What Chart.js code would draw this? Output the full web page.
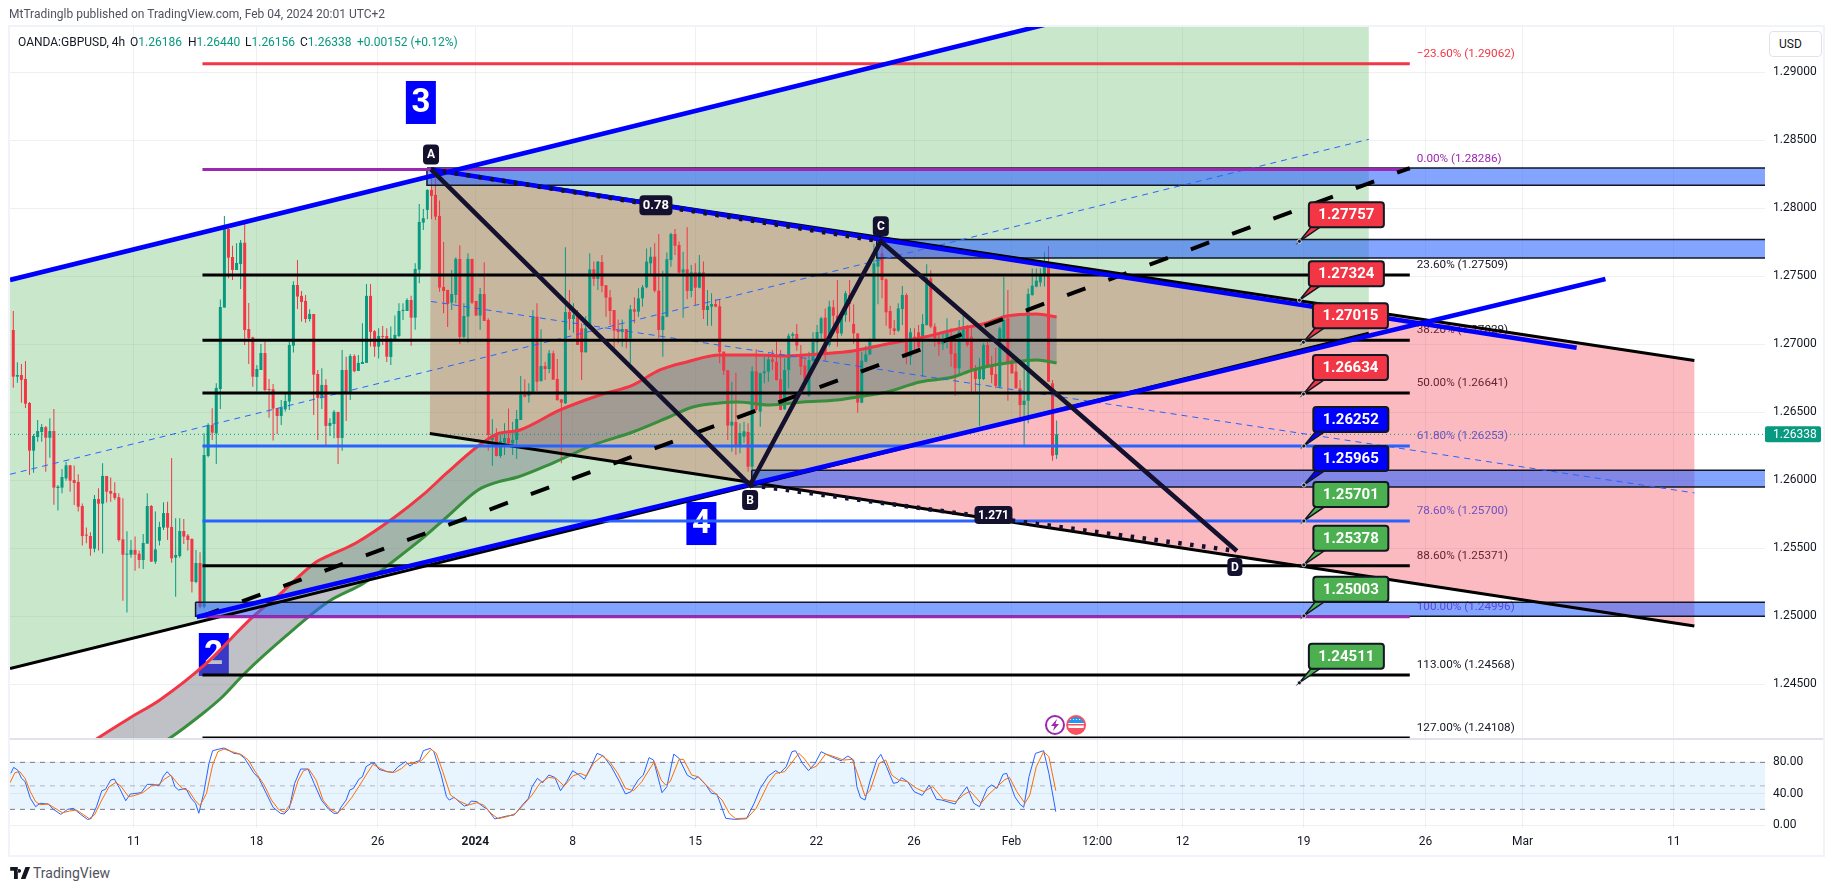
<!DOCTYPE html>
<html><head><meta charset="utf-8"><title>GBPUSD</title>
<script src="https://cdn.jsdelivr.net/npm/chart.js@4"></script>
<style>
html,body{margin:0;padding:0;background:#fff;width:1835px;height:891px;overflow:hidden;font-family:Roboto,sans-serif;color:#131722}
.frame{position:absolute;left:8px;top:25px;width:1813px;height:828px;border:2px solid #f0f3fa}
canvas{position:absolute;left:0}
.t{position:absolute;white-space:nowrap;font-size:12px;line-height:14px;z-index:5}
.g{color:#089981}
#sep{position:absolute;left:10px;top:738px;width:1813px;height:2px;background:#e0e3eb;z-index:4}
#usd{position:absolute;left:1769px;top:31px;width:42px;height:24px;padding-left:9px;line-height:25px;font-size:12px;border:1px solid #e0e3eb;border-radius:4px;background:#fff;z-index:5}
</style></head><body>
<div class="t" style="left:9px;top:7px;color:#50535e">MtTradinglb published on TradingView.com, Feb 04, 2024 20:01 UTC+2</div>
<div class="frame"></div>
<canvas id="price" width="1835" height="738" style="top:0"></canvas>
<canvas id="stoch" width="1835" height="118" style="top:738px"></canvas>
<div id="sep"></div>
<div class="t" style="left:18px;top:35px">OANDA:GBPUSD, 4h</div>
<div class="t" style="left:130px;top:35px">O<span class="g">1.26186</span></div>
<div class="t" style="left:188px;top:35px">H<span class="g">1.26440</span></div>
<div class="t" style="left:245px;top:35px">L<span class="g">1.26156</span></div>
<div class="t" style="left:300px;top:35px">C<span class="g">1.26338</span></div>
<div class="t g" style="left:357px;top:35px">+0.00152 (+0.12%)</div>
<div id="usd">USD</div>
<svg style="position:absolute;left:10px;top:867px" width="20" height="12" viewBox="0 0 36 22"><path fill="#131722" d="M14 22H7V7H0V0h14v22Zm14 0h-8.5L28 0h8.5L28 22ZM20 7a3.5 3.5 0 1 0 0 0.01Z"/></svg>
<div class="t" style="left:33px;top:866px;font-size:14px;color:#50535e">TradingView</div>
<script>
const opens=[1.27105,1.26762,1.26774,1.26745,1.26568,1.26218,1.26318,1.26355,1.2639,1.26313,
1.26362,1.25943,1.25946,1.26014,1.2611,1.26002,1.25988,1.25811,1.25598,1.2559,
1.25497,1.25862,1.25828,1.26032,1.25921,1.25907,1.25875,1.25566,1.25453,1.25453,
1.25488,1.2546,1.25414,1.25534,1.25811,1.25402,1.25556,1.25652,1.25759,1.25657,
1.25431,1.25443,1.25627,1.25593,1.25568,1.25252,1.25392,1.2507,1.26179,1.26407,
1.26345,1.26671,1.2727,1.27848,1.27642,1.27546,1.2759,1.27747,1.27112,1.27051,
1.2676,1.26811,1.26936,1.26671,1.26669,1.26532,1.26473,1.26522,1.26579,1.2699,
1.27436,1.27356,1.27319,1.27186,1.27223,1.26782,1.26606,1.26701,1.264,1.26414,
1.26503,1.26311,1.26811,1.26647,1.26914,1.26804,1.26855,1.26863,1.27356,1.27096,
1.26983,1.27061,1.27061,1.26907,1.27039,1.27061,1.27245,1.27245,1.27326,1.27196,
1.27549,1.27895,1.27988,1.28135,1.28098,1.27944,1.27422,1.274,1.27306,1.27363,
1.27628,1.27054,1.27204,1.27628,1.27319,1.27211,1.2737,1.27179,1.26297,1.26333,
1.26179,1.26277,1.26311,1.26272,1.26297,1.26444,1.26628,1.26622,1.26652,1.27203,
1.2673,1.2684,1.26818,1.26934,1.26745,1.26595,1.26566,1.27237,1.27186,1.27215,
1.27117,1.26941,1.27117,1.27551,1.2748,1.27605,1.27434,1.27345,1.27252,1.27105,
1.2709,1.27112,1.27044,1.27257,1.2724,1.27338,1.27419,1.27595,1.27644,1.27394,
1.27105,1.27203,1.2762,1.27811,1.2773,1.27527,1.27551,1.27392,1.27529,1.27416,
1.27529,1.27252,1.27277,1.27296,1.27279,1.26946,1.26809,1.26402,1.26429,1.2626,
1.26321,1.26355,1.261,1.26801,1.26505,1.26787,1.26799,1.26889,1.26872,1.26742,
1.26522,1.26811,1.27063,1.27076,1.26926,1.26843,1.26622,1.26879,1.27014,1.2708,
1.27196,1.26995,1.27272,1.2721,1.2708,1.27215,1.27362,1.27149,1.2708,1.26571,
1.26872,1.26926,1.27031,1.27571,1.27669,1.27477,1.27245,1.27117,1.271,1.27259,
1.27362,1.26909,1.27056,1.27088,1.27053,1.27142,1.27485,1.2713,1.27031,1.27,
1.27031,1.27024,1.26933,1.26823,1.27024,1.27117,1.27056,1.26818,1.26745,1.26745,
1.26995,1.26848,1.26781,1.26688,1.27046,1.27191,1.26884,1.26799,1.26676,1.26553,
1.26585,1.27362,1.27424,1.27455,1.27509,1.276,1.26713,1.26186];
const highs=[1.27245,1.26868,1.26855,1.26877,1.26576,1.2634,1.26443,1.26414,1.264,1.26456,
1.26524,1.25965,1.26083,1.26137,1.26112,1.26108,1.26044,1.2583,1.25652,1.25617,
1.25892,1.25941,1.26125,1.26032,1.2602,1.25985,1.25904,1.25867,1.25625,1.25561,
1.25586,1.25483,1.25605,1.25904,1.25818,1.2577,1.25696,1.25838,1.25843,1.26164,
1.2572,1.2572,1.25715,1.25605,1.25573,1.25488,1.2547,1.26345,1.26419,1.26529,
1.26713,1.2733,1.27943,1.27853,1.27725,1.27742,1.27767,1.27914,1.27303,1.27056,
1.26848,1.27002,1.27019,1.26745,1.26708,1.26532,1.26591,1.2664,1.27017,1.27463,
1.2762,1.27392,1.27363,1.27258,1.27223,1.26811,1.26824,1.26743,1.26456,1.26517,
1.26503,1.26958,1.26909,1.26929,1.26926,1.26922,1.27154,1.27444,1.27444,1.27105,
1.27118,1.27135,1.27118,1.2713,1.27211,1.27302,1.27302,1.27338,1.27356,1.27596,
1.28032,1.27995,1.2814,1.28233,1.2822,1.28057,1.27753,1.274,1.27547,1.2764,
1.27728,1.27302,1.27669,1.27628,1.27319,1.27414,1.27603,1.27191,1.26449,1.26382,
1.26333,1.26419,1.26527,1.26431,1.26517,1.26767,1.26743,1.26713,1.27252,1.27301,
1.2711,1.26872,1.26958,1.26953,1.26892,1.26595,1.27713,1.27399,1.27301,1.27252,
1.27154,1.27208,1.27669,1.27608,1.27612,1.27657,1.27434,1.27399,1.27252,1.27183,
1.27183,1.27112,1.27289,1.27345,1.27412,1.27436,1.27705,1.27713,1.27742,1.27811,
1.27541,1.27674,1.27821,1.27848,1.27755,1.27681,1.2786,1.27583,1.27595,1.27657,
1.27608,1.27399,1.27375,1.27331,1.27331,1.26946,1.26809,1.26725,1.26791,1.26419,
1.26431,1.26419,1.26836,1.26963,1.26791,1.26909,1.26934,1.26958,1.27019,1.26958,
1.26897,1.2708,1.27088,1.27149,1.26995,1.26897,1.26946,1.27088,1.27142,1.27203,
1.27264,1.27321,1.27325,1.27473,1.27235,1.27392,1.27473,1.27294,1.2708,1.26946,
1.2699,1.27044,1.27737,1.27669,1.2773,1.27485,1.27284,1.27178,1.27301,1.27428,
1.27375,1.27117,1.27117,1.27142,1.2722,1.27588,1.27544,1.27154,1.27068,1.27088,
1.27191,1.27117,1.27014,1.27178,1.27215,1.27142,1.27142,1.26848,1.26897,1.27007,
1.27019,1.26914,1.26975,1.2713,1.27497,1.27399,1.26897,1.2686,1.26737,1.26884,
1.27411,1.27558,1.27558,1.27558,1.27676,1.27723,1.26737,1.2644];
const lows=[1.26681,1.26718,1.26571,1.26532,1.26039,1.26056,1.26284,1.26284,1.26063,1.26166,
1.25821,1.25777,1.25904,1.25997,1.25916,1.25818,1.2577,1.2552,1.25537,1.25446,
1.2547,1.25483,1.25461,1.25836,1.25843,1.25855,1.25549,1.25115,1.25027,1.25431,
1.25335,1.25353,1.25348,1.25534,1.254,1.25385,1.2552,1.25635,1.25561,1.25394,
1.25144,1.25431,1.25532,1.25483,1.25174,1.25242,1.25059,1.25059,1.26169,1.26296,
1.2612,1.26524,1.2727,1.27485,1.27473,1.27546,1.27407,1.26995,1.26855,1.26688,
1.26652,1.26811,1.26652,1.2646,1.26292,1.26341,1.26407,1.26505,1.26517,1.26939,
1.2726,1.27167,1.27159,1.27167,1.2648,1.26297,1.26525,1.2626,1.26326,1.26309,
1.2612,1.26218,1.26436,1.26591,1.26794,1.26804,1.26855,1.26863,1.26983,1.26909,
1.26895,1.26995,1.2687,1.26848,1.27039,1.27052,1.27179,1.27245,1.2699,1.27106,
1.27449,1.27841,1.27919,1.27919,1.27914,1.27387,1.27228,1.27128,1.27253,1.27302,
1.27003,1.27042,1.27012,1.27297,1.27211,1.27106,1.27172,1.26218,1.26106,1.26174,
1.26164,1.26186,1.26253,1.26186,1.26157,1.26444,1.26608,1.26571,1.26644,1.26657,
1.26725,1.26737,1.26787,1.2674,1.26585,1.26125,1.26561,1.27105,1.27085,1.26995,
1.26737,1.26939,1.27117,1.27429,1.27399,1.27382,1.27203,1.27142,1.26958,1.27007,
1.26982,1.2697,1.2686,1.27154,1.27203,1.27277,1.27412,1.2751,1.2738,1.27044,
1.26909,1.27198,1.27571,1.27657,1.27522,1.27196,1.27331,1.27345,1.27289,1.27412,
1.27186,1.27137,1.27137,1.27272,1.2686,1.26774,1.26296,1.2621,1.26186,1.26198,
1.26272,1.26063,1.2599,1.26505,1.26394,1.26713,1.26725,1.26811,1.26733,1.26517,
1.26517,1.26676,1.27019,1.26953,1.26774,1.26664,1.26615,1.26872,1.26933,1.27031,
1.26877,1.26982,1.27076,1.26982,1.27063,1.27166,1.27166,1.27004,1.26497,1.26566,
1.26867,1.26921,1.27031,1.27294,1.27338,1.27137,1.27068,1.27068,1.27093,1.27142,
1.26853,1.26848,1.26946,1.2697,1.26762,1.27137,1.27117,1.26982,1.26916,1.26958,
1.2697,1.26835,1.26622,1.26774,1.27019,1.26982,1.26651,1.26651,1.26399,1.26737,
1.26835,1.26713,1.26676,1.26676,1.2703,1.26585,1.26786,1.26676,1.26426,1.26259,
1.26419,1.27357,1.27419,1.27424,1.27424,1.26725,1.26144,1.26156];
const closes=[1.26762,1.26774,1.26738,1.26563,1.26218,1.26326,1.26362,1.26392,1.26313,1.26362,
1.25946,1.25953,1.26024,1.2611,1.25997,1.2598,1.25806,1.2559,1.25593,1.25497,
1.25862,1.25828,1.26032,1.25916,1.25902,1.2587,1.25561,1.25453,1.25458,1.25488,
1.25453,1.25414,1.25539,1.25811,1.25402,1.25492,1.25657,1.25759,1.25652,1.25426,
1.25451,1.25627,1.25586,1.25561,1.25254,1.25392,1.2507,1.26186,1.26407,1.2635,
1.26679,1.27274,1.27848,1.27637,1.27546,1.27598,1.27747,1.27105,1.27046,1.26762,
1.26818,1.26936,1.26664,1.26664,1.26527,1.26473,1.26532,1.26583,1.26995,1.27436,
1.27351,1.27311,1.27186,1.27223,1.26777,1.26606,1.26701,1.264,1.26422,1.26503,
1.26311,1.26811,1.26647,1.26914,1.26802,1.26863,1.2687,1.27356,1.27091,1.26983,
1.27061,1.27054,1.26909,1.27044,1.27069,1.27245,1.27253,1.27326,1.27196,1.27554,
1.279,1.27927,1.28135,1.28091,1.27939,1.27417,1.27392,1.27297,1.2737,1.27628,
1.27054,1.27208,1.27628,1.27306,1.27211,1.2737,1.27172,1.26333,1.26333,1.26179,
1.26289,1.26311,1.26272,1.26297,1.26451,1.26628,1.26615,1.26652,1.27203,1.26725,
1.2684,1.26818,1.26934,1.2674,1.2659,1.26571,1.27237,1.27186,1.27215,1.26995,
1.26941,1.27117,1.27551,1.2748,1.27608,1.27429,1.27343,1.27245,1.271,1.2709,
1.27112,1.27039,1.27257,1.2724,1.27338,1.27419,1.27608,1.27644,1.27394,1.27105,
1.27208,1.27625,1.27811,1.27725,1.27527,1.27551,1.27392,1.27529,1.27416,1.27529,
1.27252,1.27282,1.27296,1.27277,1.26941,1.26806,1.26402,1.26431,1.2626,1.26348,
1.2636,1.261,1.26801,1.26517,1.26787,1.26801,1.26889,1.26872,1.26737,1.26517,
1.26811,1.27063,1.27076,1.2699,1.26835,1.26737,1.26884,1.27019,1.2709,1.27191,
1.26921,1.27277,1.2721,1.2708,1.27215,1.27375,1.27296,1.2708,1.26571,1.2688,
1.26926,1.27019,1.27595,1.27632,1.27473,1.27235,1.27117,1.27098,1.27264,1.27362,
1.26909,1.27088,1.27031,1.26982,1.27149,1.2749,1.2713,1.27044,1.27,1.27026,
1.2708,1.26928,1.26823,1.27093,1.27117,1.26995,1.26818,1.26745,1.26818,1.26995,
1.26843,1.26774,1.26693,1.27117,1.27178,1.2686,1.26786,1.26676,1.26553,1.26585,
1.2737,1.27431,1.27468,1.27509,1.27571,1.26725,1.26181,1.26338];
const lastPrice=1.26338;
const priceTicks=[1.245,1.25,1.255,1.26,1.265,1.27,1.275,1.28,1.285,1.29];
const stochTicks=[0,40,80];
const timeBars=[29.7,59.9,89.8,113.8,137.8,168,197.8,221.9,245.9,267,288,317.9,347.9,371.8,409];
const timeLabels=['11','18','26','2024','8','15','22','26','Feb','12:00','12','19','26','Mar','11'];
const fibPrices=[1.29062,1.28286,1.27509,1.27029,1.26641,1.26253,1.257,1.25371,1.24996,1.24568,1.24108];
const fibLabels=['\u221223.60% (1.29062)','0.00% (1.28286)','23.60% (1.27509)','38.20% (1.27029)','50.00% (1.26641)','61.80% (1.26253)','78.60% (1.25700)','88.60% (1.25371)','100.00% (1.24996)','113.00% (1.24568)','127.00% (1.24108)'];
const notePrices=[1.27757,1.27324,1.27015,1.26634,1.26252,1.25965,1.25701,1.25378,1.25003,1.24511];
const noteBars=[316.8,316.8,317.8,317.8,317.9,317.9,317.9,317.9,317.9,316.8];
const pointA=[102.9,1.28286],pointB=[181.5,1.25965],pointC=[213.7,1.27757],pointD=[301.4,1.2548];
const greenChannelUpper=[[-0.8,1.27473],[333.9,1.29937]];
const greenChannelLower=[[-0.8,1.24616],[333.9,1.27082]];
const greenChannelMiddle=[[-0.8,1.26044],[333.9,1.28507]];
const redChannelUpper=[[102.9,1.28285],[414.1,1.26881]];
const redChannelLower=[[102.6,1.26344],[414.1,1.24929]];
const redChannelMiddle=[[102.9,1.27315],[414.1,1.25907]];
const risingTrend=[[45.2,1.24995],[392.2,1.2748]];
const fallingTrend=[[102.9,1.28285],[385.1,1.26975]];
const dashedTrend=[[46.2,1.24997],[344,1.28296]];
const zoneBars=[101.9,212.7,181.9,44.9];
const zoneTops=[1.28296,1.27771,1.26074,1.25103];
const zoneBottoms=[1.28169,1.27635,1.25951,1.25];
const waveLabels=['3','4','2'],waveBars=[100.4,169.5,49.4],wavePrices=[1.28778,1.25682,1.24719];
const fastMA=[[17.7,1.24039],[20.9,1.24105],[28.7,1.24252],[36.1,1.24385],[47.1,1.24642],[59,1.24995],[64.9,1.25142],[74.6,1.25399],[76.5,1.25429],[84.4,1.25539],[94,1.2573],[100.9,1.25892],[106.8,1.26054],[114.2,1.26245],[119.1,1.2634],[124.8,1.2637],[134.7,1.26517],[144.5,1.26627],[152.6,1.267],[159.3,1.26811],[165.9,1.2687],[174,1.26921],[182.2,1.26921],[190.6,1.26914],[198.7,1.26929],[206.8,1.26951],[215.2,1.27002],[223.3,1.27046],[231.5,1.27105],[239.8,1.27157],[244.8,1.27208],[252.1,1.27223],[257,1.27201]];
const slowMA=[[33.7,1.24017],[38.6,1.24105],[46.2,1.24274],[51.2,1.24399],[57.1,1.24583],[66.9,1.24848],[77.5,1.25105],[86.4,1.25245],[94,1.25414],[100.9,1.25576],[106.8,1.2573],[114.5,1.25929],[119.4,1.25988],[124.3,1.26024],[132.9,1.26127],[142.8,1.26259],[152.6,1.26355],[161,1.26458],[167.4,1.26539],[174,1.26568],[178.3,1.26576],[186.4,1.26554],[194.5,1.26576],[202.9,1.2659],[211,1.26627],[215.2,1.26649],[223.3,1.26723],[231.5,1.26759],[236.4,1.26811],[244.8,1.26862],[252.1,1.26884],[257,1.26862]];
const stochK=[[-0.6,66],[0.1,73.6],[1.1,70],[2,59.8],[2.9,55.5],[4.2,34.2],[5.5,23.4],[6.6,27.7],[8.6,26.8],[9.9,20],[11.7,13.6],[13.4,20],[14.8,21.3],[16.5,14],[18.3,7],[19.2,8.3],[20.5,23.4],[21.8,43.8],[22.7,45.5],[24,57.4],[24.9,58.7],[26.2,46.8],[27.7,31],[28.8,39.5],[31.5,41.3],[33,51.9],[34.5,51.9],[35.9,49.8],[37,62.5],[37.9,68.1],[39,61.7],[39.8,49],[40.7,44.7],[42.5,46.8],[43.8,34.2],[44.9,27.7],[45.7,15],[46.9,40.5],[48.2,78.8],[49.1,94.9],[50.4,96.6],[51.9,98.3],[53,95.8],[54.3,91.5],[55.7,90.6],[57,85.1],[58.3,74.5],[59.2,66.8],[60.5,59.6],[62.3,40.5],[64,22.6],[65.8,15],[66.7,14],[68,21.3],[69.3,53.2],[70.8,71.5],[72.6,71.5],[74.1,53.2],[75.9,31.9],[77.7,20],[79,14.9],[79.9,14.9],[80.7,22.6],[82,31.9],[82.9,44.7],[83.8,46.8],[85.1,58.3],[86,61.7],[86.9,74.5],[88.2,78.8],[89.1,78.8],[90.1,71],[92.1,68.1],[93.5,67.2],[94.8,74.5],[96.6,80.9],[97.7,75.3],[99.2,80.9],[100.1,82.2],[101,94.9],[102.7,97.9],[103.6,93.6],[105.4,63.9],[106.7,36.2],[107.4,31.9],[108.6,35.3],[109.8,29.8],[111.1,24.3],[112,25.5],[112.8,30.6],[114.2,29.8],[115.5,24.3],[116.8,20],[118.6,7.7],[119.9,9.4],[121.6,11.5],[123.4,12.8],[125.2,24.3],[126.9,34.2],[127.8,49],[129.1,59.6],[130.4,54],[131.9,63.8],[133.4,60.8],[134.8,43.8],[136.3,55.3],[137.8,69.4],[139.4,63.8],[140.7,58.3],[142.5,76.6],[143.8,91.5],[145.4,88.1],[147.3,74.5],[149.1,57.4],[150.8,39.6],[152.2,42.6],[153.9,57.4],[155.2,63.8],[156.6,86],[157.7,83],[159.8,41.3],[161,48.9],[162.7,90.6],[164,85.1],[166,63.8],[167.7,58.3],[168.7,61.7],[170.6,51.1],[172,40.4],[173.3,39.6],[175.5,8.5],[177.7,7.2],[180.6,8.1],[182.5,27.7],[184,46.8],[186,62.6],[187.8,69.4],[188.8,66],[190.4,74.5],[191.8,93.6],[192.7,94.9],[194.4,78.7],[195.9,69.4],[197.5,78.7],[199,93.6],[200.3,90.2],[201.9,86.4],[203.9,82.1],[205.6,88.1],[207,83],[207.8,48.9],[208.7,34.9],[209.8,31.9],[211.1,57.4],[212.7,83],[213.7,90.2],[215.1,74.5],[216.8,53.2],[217.9,54.5],[218.8,60.4],[220.3,55.3],[221.9,42.6],[223.9,37.9],[225.6,51.1],[227.4,32.8],[228.7,31.9],[232,26.8],[233.1,36.2],[234.9,48.9],[236.6,27.7],[238,23.4],[239.9,46.8],[241,51.1],[242.3,46.8],[243.8,64.7],[244.7,66],[246.7,36.2],[248,26.4],[248.9,22.6],[250.2,61.7],[251.8,91.5],[253.8,94.9],[255.1,66],[256.8,17]];
const stochD=[[-0.8,54],[0.4,66.8],[1.6,68.1],[2.9,59.6],[4.2,42.6],[5.5,29.8],[6.6,26],[8.6,26.8],[9.9,22.6],[12.1,15.7],[13.9,17.9],[15.6,19.1],[17.4,12.8],[18.7,8.1],[20,12.8],[21.8,31.9],[23.6,48.9],[25.3,54.5],[26.6,48.9],[28.4,36.2],[29.7,37.4],[31.9,41.3],[34.1,50.2],[35.9,51.9],[37.2,58.3],[38.8,63.8],[40.3,54],[41.6,46.8],[43.3,43.4],[44.7,31.9],[46,24.7],[47.6,40.4],[49.1,76.6],[50.4,93.6],[51.9,97],[53.9,93.6],[56.1,90.2],[57.9,83],[59.6,68.1],[61.8,51.1],[63.6,31.9],[65.3,20],[66.8,16.2],[68.4,27.7],[70.2,57.4],[71.5,69.4],[72.8,71.5],[74.6,57.4],[76.3,31.9],[78.1,20],[79.9,15.7],[81.6,23.4],[83.4,35.3],[85.1,48.9],[86.9,63.8],[88.6,77.4],[90.4,72.3],[92.1,68.1],[93.9,67.2],[95.7,72.3],[97,78.7],[99.2,78.7],[100.5,82.1],[102.9,96.6],[104.2,91.5],[105.8,68.1],[107.7,38.3],[109.8,30.6],[112,25.5],[114.2,28.5],[115.9,25.5],[117.7,14.9],[119.4,8.1],[121.6,10.6],[123.8,14.9],[126,27.7],[127.8,38.3],[129.7,53.2],[131.9,60.8],[133.7,59.6],[135.7,49.8],[137.8,62.6],[139.6,66],[141.2,62.6],[142.9,78.7],[145.1,88.1],[146.9,80.8],[148.9,66],[150.8,46.8],[152.8,43.8],[154.8,55.3],[157.9,80.8],[159.6,57.4],[160.7,51.1],[161.8,55.3],[164,83.8],[165.1,83.8],[167.1,63.8],[168.7,61.7],[171.1,48.9],[173.3,38.3],[174.6,31.9],[176.4,14.9],[177.9,8.1],[180.8,8.9],[183,21.3],[186,53.2],[187.8,66],[190,68.1],[191.3,76.6],[193.5,91.5],[194.8,85.1],[196.6,72.3],[197.9,75.3],[200.1,90.6],[202.7,86.4],[204.5,83],[206.7,83.8],[208.5,57.4],[209.8,37],[211.1,44.7],[213.3,78.7],[214.9,83],[216.4,63.8],[218.1,57.4],[220.3,55.3],[222.5,46.8],[224.3,42.6],[226.5,48.9],[229.1,32.8],[232.2,29.8],[234,38.3],[235.7,43.4],[238.4,27.7],[240.1,38.3],[241.9,46.8],[244.1,57.4],[245.4,60.8],[247.2,42.6],[249.2,27.7],[250.4,38.3],[252,74.5],[253.8,93.6],[255.1,87.2],[256.8,43.8]];

// ---- view ranges and styles ----
const X_MIN=-0.81,X_MAX=431.5;
const PRICE_MIN=1.24105,PRICE_MAX=1.29333,STOCH_MIN=-3.8,STOCH_MAX=111.1;
const FIB_START=46.6,FIB_END=344,BAND=[20,80],EVENT_BARS=[256.6,261.8],LEVEL_MID=50;
const UP='#089981',DOWN='#f23645',BLUE='#0000ff',LINE='#2962ff',NAVY='#14112e',PURPLE='#9c27b0',GREENNOTE='#4caf50';
const fibColors=[DOWN,PURPLE,'#000','#000','#000',LINE,LINE,'#000',PURPLE,'#000','#000'];
const noteColors=[DOWN,DOWN,DOWN,DOWN,BLUE,BLUE,GREENNOTE,GREENNOTE,GREENNOTE,GREENNOTE];
const FONT='Roboto, sans-serif';
const GRID='rgba(42,46,57,0.07)';

const line=(pts,color,width,dash)=>({type:'line',data:pts.map(([x,y])=>({x,y})),borderColor:color,borderWidth:width,borderDash:dash||[],borderCapStyle:'butt',pointRadius:0,fill:false,tension:0});
const poly=(pts,fillColor,edge,edgeWidth)=>({type:'line',data:pts.map(([x,y])=>({x,y})),backgroundColor:fillColor,borderColor:edge||'transparent',borderWidth:edgeWidth||0,pointRadius:0,fill:'shape',tension:0});
const smooth=d=>Object.assign(d,{cubicInterpolationMode:'monotone'});
const candleColors=closes.map((c,i)=>c>=opens[i]?UP:DOWN);

const ds=[];
ds.push(poly([...redChannelUpper,...redChannelLower.slice().reverse()],'rgba(242,54,69,0.34)'));
ds.push(poly([...greenChannelUpper,...greenChannelLower.slice().reverse()],'rgba(76,175,80,0.3)'));
ds.push(poly([...fastMA,...slowMA.slice().reverse()],'rgba(120,123,134,0.47)'));
ds.push({type:'bar',data:highs.map((h,i)=>({x:i,y:[lows[i],h]})),backgroundColor:candleColors,barThickness:1,grouped:false,inflateAmount:0,borderWidth:0});
ds.push({type:'bar',data:opens.map((o,i)=>({x:i,y:[Math.min(o,closes[i]),Math.max(o,closes[i])]})),backgroundColor:candleColors,barThickness:3,grouped:false,inflateAmount:0,borderWidth:0,minBarLength:1});
ds.push(smooth(line(fastMA,DOWN,3)));
ds.push(smooth(line(slowMA,'#388e3c',3)));
ds.push(line([[X_MIN,lastPrice],[X_MAX,lastPrice]],UP,1,[1,3]));
zoneBars.forEach((b,i)=>ds.push(poly([[b,zoneTops[i]],[X_MAX+3,zoneTops[i]],[X_MAX+3,zoneBottoms[i]],[b,zoneBottoms[i]],[b,zoneTops[i]]],'rgba(41,98,255,0.58)','#131722',1.5)));
ds.push(line(greenChannelMiddle,LINE,1,[6,5]));
ds.push(line(redChannelMiddle,LINE,1,[6,5]));
ds.push(line(greenChannelLower,'#000',3));
ds.push(line(redChannelUpper,'#000',3));
ds.push(line(redChannelLower,'#000',3));
fibPrices.forEach((p,i)=>ds.push(line([[FIB_START,p],[FIB_END,p]],fibColors[i],i===10?2:3)));
ds.push(line(dashedTrend,'#000',4,[19.5,24.5]));
ds.push(line(greenChannelUpper,BLUE,4.6));
ds.push(line(risingTrend,BLUE,4.6));
ds.push(line(fallingTrend,BLUE,4.6));
ds.push(line([pointA,pointC],NAVY,4.5,[3.5,8.5]));
ds.push(line([pointB,pointD],NAVY,4.5,[3.5,8.5]));
ds.push(line([pointA,pointB,pointC,pointD],NAVY,4.5));
ds.forEach((d,i)=>d.order=ds.length-i);

function rr(ctx,x,y,w,h,r){ctx.beginPath();ctx.roundRect(x,y,w,h,r);}
function tagBox(ctx,txt,cx,cy,w,h,font){ctx.fillStyle=NAVY;rr(ctx,cx-w/2,cy-h/2,w,h,4);ctx.fill();ctx.fillStyle='#fff';ctx.font=font;ctx.textAlign='center';ctx.textBaseline='middle';ctx.fillText(txt,cx,cy+0.5);}
const marks={id:'marks',
 beforeDatasetsDraw(c){
  const {ctx,scales:{x,y}}=c;ctx.save();
  waveLabels.forEach((t,i)=>{const cx=x.getPixelForValue(waveBars[i]),cy=y.getPixelForValue(wavePrices[i]);
   ctx.fillStyle=BLUE;ctx.fillRect(cx-15,cy-21.5,30,43);
   ctx.fillStyle='#fff';ctx.font='bold 33px '+FONT;ctx.textAlign='center';ctx.textBaseline='middle';ctx.fillText(t,cx,cy+1);});
  ctx.font='11.7px '+FONT;ctx.textAlign='left';ctx.textBaseline='middle';
  fibPrices.forEach((p,i)=>{ctx.fillStyle=fibColors[i]==='#000'?'#131722':fibColors[i];
   ctx.fillText(fibLabels[i],x.getPixelForValue(FIB_END)+7,y.getPixelForValue(p)-10);});
  ctx.restore();
 },
 afterDatasetsDraw(c){
  const {ctx,scales:{x,y}}=c;ctx.save();
  const px=p=>x.getPixelForValue(p[0]),py=p=>y.getPixelForValue(p[1]);
  tagBox(ctx,'A',px(pointA),py(pointA)-15,16,20,'bold 12px '+FONT);
  tagBox(ctx,'B',px(pointB),py(pointB)+15,16,20,'bold 12px '+FONT);
  tagBox(ctx,'C',px(pointC),py(pointC)-15,16,20,'bold 12px '+FONT);
  tagBox(ctx,'D',px(pointD)-2,py(pointD)+16,15,18,'bold 12px '+FONT);
  tagBox(ctx,'0.78',(px(pointA)+px(pointC))/2,(py(pointA)+py(pointC))/2,33,20,'bold 13px '+FONT);
  tagBox(ctx,'1.271',(px(pointB)+px(pointD))/2,(py(pointB)+py(pointD))/2-3,38,18,'bold 12px '+FONT);
  notePrices.forEach((p,i)=>{
   const dx=x.getPixelForValue(noteBars[i]),dy=y.getPixelForValue(p),bx=dx+9.5,by=dy-39,col=noteColors[i];
   ctx.fillStyle=col;ctx.strokeStyle='#131722';ctx.lineWidth=1.5;
   ctx.beginPath();ctx.moveTo(bx+2,by+25);ctx.lineTo(dx,dy);ctx.lineTo(bx+11,by+25);ctx.closePath();ctx.fill();ctx.stroke();
   rr(ctx,bx,by,75,25,3);ctx.fill();ctx.lineWidth=2;ctx.stroke();
   ctx.fillStyle='#fff';ctx.font='bold 15px '+FONT;ctx.textAlign='center';ctx.textBaseline='middle';ctx.fillText(p.toFixed(5),bx+37.5,by+13);
   ctx.beginPath();ctx.arc(dx,dy,2,0,7);ctx.fillStyle='#131722';ctx.fill();ctx.strokeStyle='#fff';ctx.lineWidth=.7;ctx.stroke();
  });
  // event icons
  const iy=725,i1=x.getPixelForValue(EVENT_BARS[0]),i2=x.getPixelForValue(EVENT_BARS[1]);
  ctx.lineWidth=2;ctx.beginPath();ctx.arc(i2,iy,9,0,7);ctx.fillStyle='#fff';ctx.fill();ctx.save();ctx.clip();
  ctx.fillStyle='#f7525f';ctx.fillRect(i2-9,iy+3,18,6);ctx.fillStyle='#2196f3';ctx.fillRect(i2-9,iy-9,18,7);
  ctx.fillStyle='#fff';for(let k=-6;k<=6;k+=3)ctx.fillRect(i2+k,iy-6,1,1);
  ctx.fillStyle='#f7525f';ctx.fillRect(i2-9,iy-1,18,1.5);ctx.restore();
  ctx.strokeStyle='#f7525f';ctx.beginPath();ctx.arc(i2,iy,9,0,7);ctx.stroke();
  ctx.beginPath();ctx.arc(i1,iy,9,0,7);ctx.fillStyle='#fff';ctx.fill();ctx.strokeStyle=PURPLE;ctx.stroke();
  ctx.fillStyle=PURPLE;ctx.beginPath();ctx.moveTo(i1+2,iy-6);ctx.lineTo(i1-4,iy+1);ctx.lineTo(i1-.5,iy+1);ctx.lineTo(i1-2,iy+6);ctx.lineTo(i1+4,iy-1);ctx.lineTo(i1+.5,iy-1);ctx.closePath();ctx.fill();
  // last price tag
  const ly=y.getPixelForValue(lastPrice);ctx.fillStyle=UP;rr(ctx,x.right,ly-8,56,16,2);ctx.fill();
  ctx.fillStyle='#fff';ctx.font='12px '+FONT;ctx.textAlign='left';ctx.textBaseline='middle';ctx.fillText(lastPrice.toFixed(5),x.right+8,ly+.5);
  ctx.restore();
 }};
const setTicks=list=>s=>{s.ticks=list.map(v=>({value:v}));};
const noPad=fn=>s=>{s.paddingLeft=s.paddingRight=s.paddingTop=s.paddingBottom=0;fn(s);};
Chart.defaults.font.family=FONT;
const base={responsive:false,animation:false,devicePixelRatio:1,events:[],plugins:{legend:{display:false},tooltip:{enabled:false}}};
new Chart(document.getElementById('price'),{type:'line',data:{datasets:ds},plugins:[marks],options:{...base,
 layout:{padding:{left:10,top:27,right:0,bottom:0}},
 scales:{
  x:{type:'linear',min:X_MIN,max:X_MAX,offset:false,grid:{color:GRID,offset:false,drawTicks:false},border:{display:false},ticks:{display:false},afterBuildTicks:setTicks(timeBars),afterFit:noPad(s=>{s.height=0;})},
  y:{type:'linear',position:'right',min:PRICE_MIN,max:PRICE_MAX,grid:{color:GRID,drawTicks:false},border:{display:false},afterBuildTicks:setTicks(priceTicks),
     ticks:{autoSkip:false,padding:8,color:'#131722',font:{size:12},callback:v=>v.toFixed(5)},afterFit:noPad(s=>{s.width=70;})}
 }}});
const sds=[poly([[X_MIN,BAND[1]],[X_MAX,BAND[1]],[X_MAX,BAND[0]],[X_MIN,BAND[0]],[X_MIN,BAND[1]]],'rgba(33,150,243,0.1)'),
 line([[X_MIN,BAND[1]],[X_MAX,BAND[1]]],'#787b86',1,[5,5]),
 line([[X_MIN,LEVEL_MID],[X_MAX,LEVEL_MID]],'rgba(120,123,134,0.5)',1,[5,5]),
 line([[X_MIN,BAND[0]],[X_MAX,BAND[0]]],'#787b86',1,[5,5]),
 line(stochK,LINE,1),line(stochD,'#ff6d00',1)];
sds.forEach((d,i)=>d.order=sds.length-i);
new Chart(document.getElementById('stoch'),{type:'line',data:{datasets:sds},options:{...base,
 layout:{padding:{left:10,top:0,right:0,bottom:0}},
 scales:{
  x:{type:'linear',min:X_MIN,max:X_MAX,offset:false,grid:{color:GRID,offset:false,drawTicks:false},border:{display:false},afterBuildTicks:setTicks(timeBars),
     ticks:{autoSkip:false,maxRotation:0,padding:7,color:'#131722',font:c=>({size:12,weight:timeLabels[c.index]==='2024'?'bold':'normal'}),callback:(v,i)=>timeLabels[i]},afterFit:noPad(s=>{s.height=28;})},
  y:{type:'linear',position:'right',min:STOCH_MIN,max:STOCH_MAX,grid:{color:GRID,drawTicks:false},border:{display:false},afterBuildTicks:setTicks(stochTicks),
     ticks:{autoSkip:false,padding:8,color:'#131722',font:{size:12},callback:v=>v.toFixed(2)},afterFit:noPad(s=>{s.width=70;})}
 }}});
</script></body></html>
